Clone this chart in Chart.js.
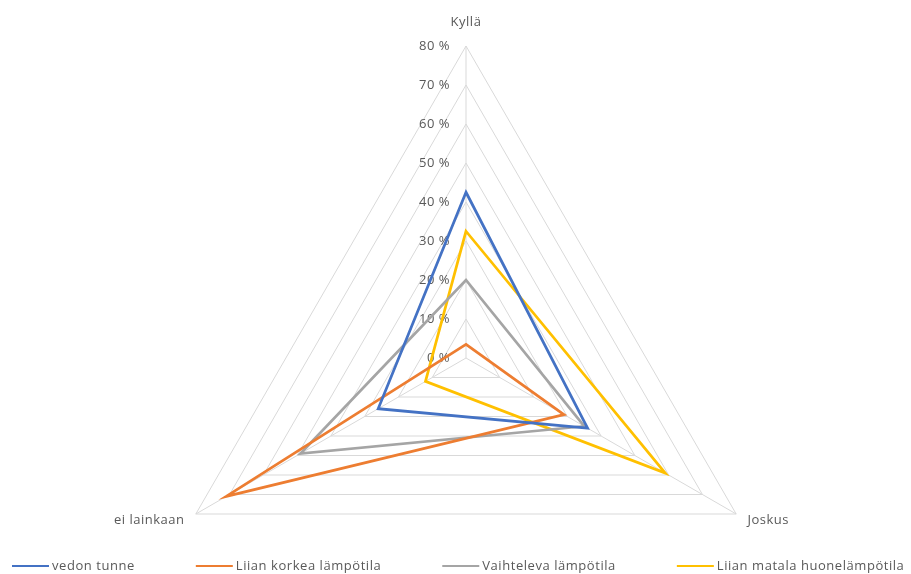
<!DOCTYPE html>
<html>
<head>
<meta charset="utf-8">
<script src="https://cdn.jsdelivr.net/npm/chart.js@4.4.1/dist/chart.umd.min.js"></script>
<style>
  html, body { margin: 0; padding: 0; background: #ffffff; }
  #wrap { width: 911px; height: 574px; }
</style>
</head>
<body>
<div id="wrap"><canvas id="c" width="911" height="574"></canvas></div>
<script>
// Answer categories (radar axes)
const categories = ['Kyllä', 'Joskus', 'ei lainkaan'];

// Share of answers (%) per problem
const vedonTunne = [42.5, 36, 26];
const liianKorkea = [3.5, 29, 71];
const vaihteleva = [20, 35, 49];
const liianMatala = [32.5, 59, 12];

const seriesNames = ['vedon tunne', 'Liian korkea lämpötila', 'Vaihteleva lämpötila', 'Liian matala huonelämpötila'];
const seriesColors = ['#4472C4', '#ED7D31', '#A5A5A5', '#FFC000'];

// Radial axis range
const axisMin = 0;
const axisMax = 80;
const axisStep = 10;

const FONT = '"Open Sans", "DejaVu Sans", sans-serif';
const TEXT = '#595959';

// Geometry of the radar
const CENTER_X = 466, CENTER_Y = 358, RADIUS = 312;

const seriesValues = [vedonTunne, liianKorkea, vaihteleva, liianMatala];

function spacing(ctx, px) {
  if ('letterSpacing' in ctx) ctx.letterSpacing = px + 'px';
}

// Tick labels left of the vertical axis, and the category labels
const radarText = {
  id: 'radarText',
  beforeDatasetsDraw(chart) {
    const s = chart.scales.r;
    const ctx = chart.ctx;
    ctx.save();
    ctx.fillStyle = TEXT;
    ctx.font = '13px ' + FONT;
    spacing(ctx, 0.5);
    ctx.textAlign = 'right';
    ctx.textBaseline = 'middle';
    s.ticks.forEach(t => {
      const p = s.getPointPositionForValue(0, t.value);
      ctx.fillText(t.value + ' %', p.x - 16, p.y);
    });
    chart.data.labels.forEach((lab, i) => {
      const off = i === 0 ? 24 : 13;
      const p = s.getPointPosition(i, s.drawingArea + off);
      ctx.textAlign = i === 0 ? 'center' : (p.x > s.xCenter ? 'left' : 'right');
      ctx.fillText(lab, p.x, p.y);
    });
    ctx.restore();
  }
};

// Single-row legend along the bottom edge
const bottomLegend = {
  id: 'bottomLegend',
  afterDraw(chart) {
    const ctx = chart.ctx;
    const lineLen = 37, gapText = 3, gapItem = 61, y = 566;
    ctx.save();
    ctx.font = '13px ' + FONT;
    spacing(ctx, 0.55);
    ctx.textBaseline = 'middle';
    ctx.textAlign = 'left';
    let x = 12;
    chart.data.datasets.forEach(d => {
      ctx.strokeStyle = d.borderColor;
      ctx.lineWidth = 2;
      ctx.beginPath();
      ctx.moveTo(x, y);
      ctx.lineTo(x + lineLen, y);
      ctx.stroke();
      x += lineLen + gapText;
      ctx.fillStyle = TEXT;
      ctx.fillText(d.label, x, y);
      x += ctx.measureText(d.label).width + gapItem;
    });
    ctx.restore();
  }
};

new Chart(document.getElementById('c'), {
  type: 'radar',
  data: {
    labels: categories,
    datasets: seriesValues.map((vals, i) => ({
      label: seriesNames[i],
      data: vals,
      borderColor: seriesColors[i],
      backgroundColor: seriesColors[i],
      borderWidth: 2.75,
      fill: false,
      pointRadius: 0,
      pointHoverRadius: 0,
      tension: 0
    }))
  },
  options: {
    responsive: false,
    animation: false,
    plugins: {
      tooltip: { enabled: false },
      legend: { display: false }
    },
    scales: {
      r: {
        min: axisMin,
        max: axisMax,
        beginAtZero: true,
        ticks: { stepSize: axisStep, display: false },
        pointLabels: { display: false },
        grid: { color: '#d9d9d9', lineWidth: 1 },
        angleLines: { color: '#d9d9d9', lineWidth: 1 },
        afterFit(scale) {
          scale.xCenter = CENTER_X;
          scale.yCenter = CENTER_Y;
          scale.drawingArea = RADIUS;
        }
      }
    }
  },
  plugins: [radarText, bottomLegend]
});
</script>
</body>
</html>
